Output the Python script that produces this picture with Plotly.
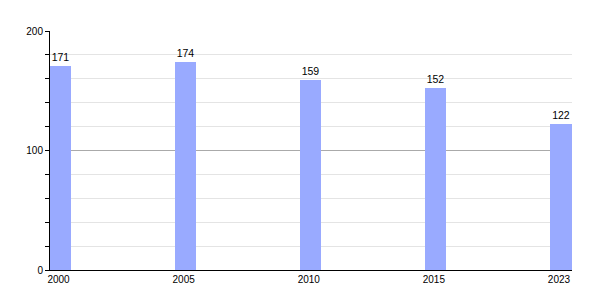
import plotly.graph_objects as go

years = ["2000", "2005", "2010", "2015", "2023"]
values = [171, 174, 159, 152, 122]

x_pos = list(range(len(years)))

fig = go.Figure()
fig.add_trace(go.Bar(
    x=x_pos, y=values, width=0.168,
    marker=dict(color="#99aaff", line=dict(width=0)),
    text=[str(v) for v in values], textposition="outside",
    textfont=dict(family="Liberation Sans, Arial, sans-serif", size=10.5, color="black"),
    cliponaxis=False,
))

fig.update_layout(
    width=600, height=300,
    margin=dict(l=50, r=28, t=31, b=30),
    paper_bgcolor="white", plot_bgcolor="white",
    showlegend=False,
    bargap=0,
    font=dict(family="Liberation Sans, Arial, sans-serif", size=10, color="black"),
    xaxis=dict(
        range=[-0.084, 4.088],
        tickmode="array", tickvals=x_pos, ticktext=years,
        showgrid=False, zeroline=False,
        showline=True, linecolor="black", linewidth=1,
        ticks="", tickfont=dict(size=10), ticklabelshift=-2,
    ),
    yaxis=dict(
        range=[0, 200], tickvals=[0, 100, 200],
        showgrid=True, gridcolor="#aaaaaa", gridwidth=1,
        zeroline=False,
        showline=True, linecolor="black", linewidth=1,
        ticks="outside", ticklen=4, tickcolor="black",
        tickfont=dict(size=10),
        minor=dict(dtick=20, showgrid=True, gridcolor="#e4e4e4", ticks="outside", ticklen=4, tickcolor="black"),
    ),
)

fig.write_html("out.html")
